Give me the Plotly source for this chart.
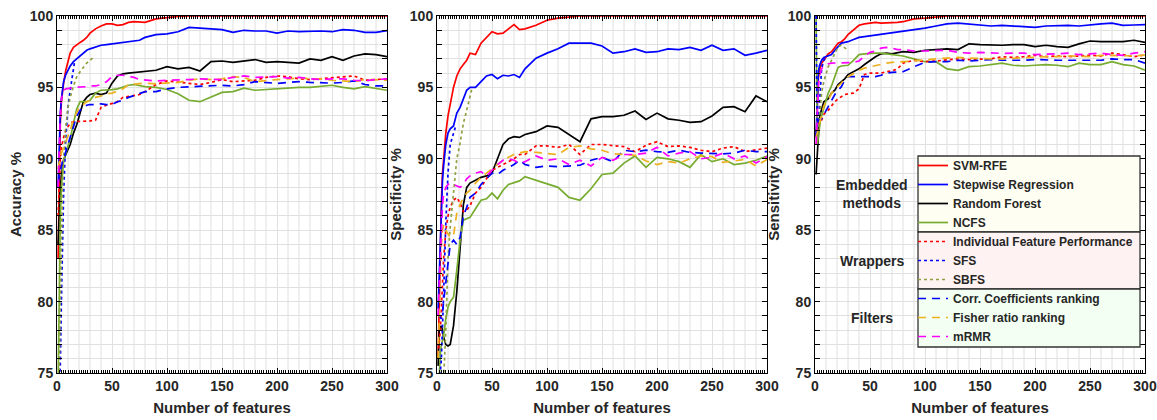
import plotly.graph_objects as go

W, H = 1157, 420

# ---------------- data ----------------
FEATURES = [1, 2, 3, 4, 5, 6, 8, 10, 12, 15, 18, 21, 24, 27, 30, 35, 40, 45, 50, 55, 60, 65, 70, 75, 80,
            90, 100, 110, 120, 130, 140, 150, 160, 170, 180, 190, 200, 210, 220, 230, 240, 250, 260, 270,
            280, 290, 300]

METHODS = ["SVM-RFE", "Stepwise Regression", "Random Forest", "NCFS",
           "Individual Feature Performance", "SFS", "SBFS",
           "Corr. Coefficients ranking", "Fisher ratio ranking", "mRMR"]

X_TICKS = [0, 50, 100, 150, 200, 250, 300]
Y_TICKS = [75, 80, 85, 90, 95, 100]
Y_TITLES = ["Accuracy %", "Specificity %", "Sensitivity %"]
GROUP_LABELS = ["Embedded<br>methods", "Wrappers", "Filters"]

# ---- Accuracy ----
ACC_SVM = [83, 89, 92.5, 94, 94.8, 95.3, 96.2, 96.9, 97.4, 97.8, 98.0, 98.15, 98.3, 98.5, 98.8,
           99.1, 99.3, 99.45, 99.45, 99.35, 99.4, 99.55, 99.6, 99.58, 99.55,
           99.8, 99.9, 99.97, 100, 100, 100, 100, 100, 100, 100, 100, 100, 100, 100, 100, 100, 100,
           100, 100, 100, 100, 100]
ACC_STEP = [88, 91.5, 93.2, 94.2, 94.9, 95.4, 95.9, 96.2, 96.5, 96.8, 97.0, 97.2, 97.4, 97.6, 97.7,
            97.85, 97.95, 98.0, 98.05, 98.1, 98.12, 98.15, 98.2, 98.3, 98.5,
            98.7, 98.75, 98.9, 99.2, 99.15, 99.1, 99.05, 98.85, 99.0, 98.95, 98.95, 98.8, 98.95,
            98.9, 98.92, 98.95, 98.9, 99.05, 99.0, 98.85, 98.85, 98.97]
ACC_RF = [84, 86.5, 88, 88.8, 89.4, 89.9, 90.3, 90.7, 91.0, 91.8, 92.4, 93.2, 94.0, 94.3, 94.5,
          94.6, 94.5, 94.6, 95.3, 95.8, 95.95, 96.0, 96.05, 96.1, 96.15,
          96.2, 96.45, 96.3, 96.4, 96.15, 96.8, 96.85, 96.75, 96.85, 96.95, 96.75, 96.8, 96.75,
          96.7, 97.0, 96.9, 97.15, 96.9, 97.2, 97.35, 97.3, 97.15]
ACC_NCFS = [74, 82, 86, 88, 89.3, 89.9, 90.4, 90.9, 91.4, 92.5, 93.5, 94.0, 94.0, 94.0, 94.1,
            94.6, 94.8, 94.8, 94.85, 94.9, 95.05, 95.15, 95.2, 95.1, 95.05,
            95.0, 94.85, 94.55, 94.1, 94.0, 94.3, 94.65, 94.7, 94.95, 94.8, 94.85, 94.95, 94.95,
            95.0, 95.0, 95.05, 95.15, 95.0, 94.9, 95.05, 94.9, 94.8]
ACC_IFP = [86, 89, 90, 90.8, 91.2, 91.5, 92.0, 92.3, 92.5, 92.6, 92.6, 92.6, 92.6, 92.6, 92.65,
           92.7, 93.6, 93.75, 93.85, 94.0, 94.3, 94.35, 94.4, 94.5, 94.7,
           95.2, 95.45, 95.35, 95.3, 95.2, 95.35, 95.55, 95.4, 95.45, 95.5, 95.7, 95.8, 95.75,
           95.6, 95.55, 95.6, 95.65, 95.75, 95.8, 95.5, 95.55, 95.6]
ACC_SFS_X = [1, 2, 3, 4, 5, 6, 8, 10, 12, 14, 16]
ACC_SFS = [73, 74, 75.5, 80, 84, 87.5, 91.5, 93.6, 94.8, 95.8, 96.8]
ACC_SBFS_X = [1, 2, 3, 4, 5, 6, 8, 10, 12, 15, 18, 21, 24, 27, 30, 33]
ACC_SBFS = [73, 75, 80, 85, 88, 90, 92.3, 93.6, 94.3, 95.1, 95.75, 96.1, 96.4, 96.7, 96.9, 97.1]
ACC_CORR = [88.3, 88.8, 89.2, 89.5, 89.8, 89.9, 90.5, 91.0, 91.5, 92.3, 93.0, 93.4, 93.65, 93.75,
            93.8, 93.8, 93.85, 93.8, 93.8, 94.0, 94.1, 94.3, 94.45, 94.55, 94.7,
            94.7, 94.9, 95.0, 95.05, 95.1, 95.15, 95.15, 95.1, 95.2, 95.4, 95.35, 95.28, 95.35,
            95.4, 95.35, 95.3, 95.3, 95.35, 95.45, 95.2, 95.1, 95.1]
ACC_FISHER = [89.3, 89.8, 90.2, 90.4, 90.6, 90.8, 91.2, 91.6, 92.0, 92.8, 93.3, 93.7, 93.8, 94.0,
              94.1, 94.3, 94.4, 94.55, 94.6, 94.75, 94.9, 95.2, 95.25, 95.3, 95.3,
              95.25, 95.3, 95.35, 95.5, 95.6, 95.55, 95.6, 95.75, 95.7, 95.4, 95.5, 95.55, 95.6,
              95.65, 95.6, 95.6, 95.5, 95.45, 95.4, 95.55, 95.5, 95.5]
ACC_MRMR = [88, 91, 93, 94.2, 94.6, 94.8, 94.9, 94.9, 94.95, 95.0, 95.0, 95.0, 95.0, 95.05, 95.1,
            95.1, 95.2, 95.4, 95.75, 95.85, 95.85, 95.8, 95.7, 95.55, 95.5,
            95.45, 95.5, 95.5, 95.55, 95.6, 95.6, 95.55, 95.7, 95.8, 95.7, 95.7, 95.75, 95.65,
            95.7, 95.6, 95.55, 95.6, 95.6, 95.5, 95.45, 95.55, 95.6]

# ---- Specificity ----
SPE_SVM = [76, 80, 84, 87, 89, 90.2, 91.8, 93.0, 93.8, 95.0, 95.8, 96.3, 96.6, 96.9, 97.4,
           97.3, 98.1, 98.5, 98.9, 98.75, 98.8, 99.1, 99.4, 99.05, 99.1,
           99.35, 99.7, 99.85, 99.95, 100, 100, 100, 100, 100, 100, 100, 100, 100, 100, 100, 100,
           100, 100, 100, 100, 100, 100]
SPE_STEP = [79.5, 82, 85, 87, 88.5, 89.5, 91.0, 91.8, 92.1, 92.3, 93.2, 93.6, 94.2, 94.8, 95.0,
            95.0, 95.4, 95.8, 95.9, 95.6, 95.85, 95.8, 95.9, 95.7, 96.3,
            97.05, 97.4, 97.7, 98.1, 98.1, 98.1, 97.9, 97.4, 97.5, 97.7, 97.45, 97.5, 97.7, 97.65,
            97.8, 97.6, 97.95, 97.6, 97.7, 97.25, 97.4, 97.6]
SPE_RF = [75.5, 78.0, 78.2, 78.3, 78.0, 77.5, 77.0, 76.9, 77.0, 78.3, 80.7, 84.0, 86.8, 88.0, 88.3,
          88.5, 88.7, 88.8, 89.0, 90.0, 91.0, 91.4, 91.55, 91.5, 91.7,
          91.9, 92.3, 92.2, 91.7, 91.2, 92.8, 92.95, 92.95, 93.05, 93.35, 92.75, 93.2, 92.8, 92.7,
          92.55, 92.6, 93.0, 93.6, 93.65, 93.3, 94.4, 94.0]
SPE_NCFS = [73, 75, 76.3, 77, 77.3, 77.6, 78.8, 79.6, 80.0, 80.3, 82.2, 84.3, 85.7, 85.8, 85.9,
            86.5, 87.1, 87.2, 87.6, 87.2, 87.8, 88.2, 88.3, 88.45, 88.75,
            88.5, 88.2, 88.0, 87.3, 87.1, 87.9, 88.9, 89.0, 89.7, 90.2, 89.4, 90.1, 90.0, 89.8,
            89.4, 90.3, 89.8, 90.0, 89.6, 89.7, 89.9, 90.2]
SPE_IFP = [76.3, 77, 78, 79.5, 81.5, 83, 85, 86, 86.6, 87.1, 87.3, 86.9, 86.3, 86.4, 86.7,
           87.6, 88.0, 88.6, 89.2, 89.4, 89.6, 89.8, 90.0, 90.3, 90.3,
           90.9, 90.9, 90.8, 91.0, 90.3, 91.0, 91.0, 90.95, 90.85, 90.5, 90.95, 91.2, 90.85, 90.9,
           90.8, 90.6, 90.5, 90.75, 90.85, 90.5, 90.6, 90.75]
SPE_SFS_X = [1, 2, 3, 4, 5, 6, 8, 10, 12, 15, 17]
SPE_SFS = [74, 74.5, 75, 76, 78, 80.5, 85.5, 89, 91, 91.8, 92.3]
SPE_SBFS_X = [1, 2, 3, 4, 5, 6, 8, 10, 12, 15, 18, 21, 24, 27, 30, 32]
SPE_SBFS = [70, 71, 72, 73, 74, 74.5, 78, 83, 85.2, 87.5, 90.0, 91.1, 92.5, 93.4, 94.4, 95.0]
SPE_CORR = [79.2, 79.0, 78.9, 78.8, 79.2, 80.0, 81.5, 83.0, 84.0, 84.3, 84.0, 84.5, 86.0, 86.6, 87.3,
            87.6, 88.2, 88.6, 89.0, 88.9, 89.2, 89.4, 89.6, 89.9, 89.6,
            89.4, 89.5, 89.45, 89.5, 89.55, 89.9, 90.1, 89.8, 90.6, 90.5, 90.6, 90.5, 90.45, 90.6,
            90.45, 90.4, 90.35, 90.35, 90.4, 90.6, 90.5, 90.5]
SPE_FISHER = [76, 79, 82, 84, 85, 85.4, 85.0, 84.7, 84.5, 84.6, 86.2, 86.8, 87.3, 87.6, 87.8,
              88.3, 88.7, 89.0, 89.3, 89.6, 89.9, 90.1, 90.3, 90.4, 90.5,
              90.45, 90.4, 90.3, 90.8, 90.9, 90.7, 90.6, 90.35, 90.3, 90.25, 89.85, 89.6, 89.8,
              89.7, 90.0, 90.2, 90.15, 89.75, 89.85, 89.95, 89.5, 89.95]
SPE_MRMR = [79, 81, 83.5, 85.5, 86.8, 87.5, 88.0, 88.2, 88.3, 88.2, 88.1, 88.0, 88.2, 88.6, 88.8,
            89.0, 89.1, 88.8, 89.2, 89.6, 89.9, 90.0, 89.9, 89.7, 89.8,
            90.2, 89.9, 90.0, 89.6, 89.9, 89.5, 90.1, 89.9, 90.3, 90.3, 90.4, 90.8, 90.2, 90.4,
            90.5, 90.0, 90.1, 90.4, 90.0, 90.2, 89.7, 90.15]

# ---- Sensitivity ----
SEN_SVM = [91.5, 94.5, 95.6, 96.2, 96.5, 96.7, 96.9, 97.1, 97.35, 97.5, 97.8, 98.1, 98.2, 98.4, 98.7,
           99.05, 99.35, 99.45, 99.5, 99.55, 99.5, 99.5, 99.5, 99.55, 99.6,
           99.8, 99.85, 99.92, 100, 100, 100, 100, 100, 100, 100, 100, 100, 100, 100, 100, 100,
           100, 100, 100, 100, 100, 100]
SEN_STEP = [91.5, 94.5, 96.0, 96.5, 96.8, 96.9, 97.1, 97.15, 97.2, 97.3, 97.6, 97.85, 98.1, 98.15,
            98.2, 98.35, 98.5, 98.55, 98.6, 98.65, 98.7, 98.75, 98.8, 98.85, 98.9,
            99.0, 99.15, 99.3, 99.45, 99.5, 99.45, 99.35, 99.3, 99.35, 99.3, 99.25, 99.2, 99.3,
            99.35, 99.35, 99.3, 99.4, 99.45, 99.5, 99.35, 99.37, 99.4]
SEN_RF = [88.9, 90.5, 92.0, 92.8, 93.2, 93.5, 94.0, 94.1, 94.2, 94.6, 94.8, 95.2, 95.4, 95.6, 95.9,
          96.1, 96.3, 96.6, 96.9, 97.15, 97.35, 97.4, 97.35, 97.45, 97.5,
          97.45, 97.6, 97.65, 97.7, 97.65, 98.05, 98.0, 97.95, 97.95, 98.0, 98.0, 97.85, 97.95,
          97.85, 97.8, 98.05, 98.25, 98.2, 98.2, 98.2, 98.3, 98.15]
SEN_NCFS = [100, 91.0, 91.5, 92.3, 92.7, 93.0, 93.6, 94.2, 94.6, 95.1, 95.8, 96.4, 96.5, 96.5, 96.55,
            96.9, 97.3, 97.35, 97.4, 97.4, 97.4, 97.35, 97.3, 97.3, 97.2,
            97.0, 96.8, 96.8, 96.3, 96.2, 96.45, 96.5, 96.6, 96.7, 96.55, 96.5, 96.55, 96.6, 96.55,
            96.45, 96.7, 96.6, 96.6, 96.8, 96.6, 96.5, 96.2]
SEN_IFP = [91.5, 92.0, 92.3, 92.5, 92.6, 92.7, 93.1, 93.3, 93.4, 93.7, 94.0, 94.2, 94.35, 94.5, 94.55,
           94.6, 94.9, 95.9, 96.0, 96.0, 96.0, 96.1, 96.15, 96.3, 96.7,
           96.9, 96.8, 96.85, 96.95, 97.0, 96.95, 96.95, 97.0, 97.15, 97.1, 97.15, 97.25, 97.15,
           97.2, 97.15, 97.2, 97.25, 97.2, 97.4, 97.3, 97.15, 97.27]
SEN_SFS_X = [1, 2, 3, 4, 5, 6, 8, 10]
SEN_SFS = [100, 91.5, 92.5, 94, 95.5, 96.3, 96.9, 97.1]
SEN_SBFS_X = [1, 2, 3, 4, 5, 6, 8, 10, 12, 15, 18, 21, 24, 27, 30]
SEN_SBFS = [91.0, 91.2, 92.0, 93.0, 93.8, 94.6, 95.4, 96.0, 96.45, 96.9, 97.4, 97.85, 97.95, 97.75, 97.6]
SEN_CORR = [91.5, 92.5, 92.7, 92.7, 92.75, 92.8, 93.1, 93.4, 93.7, 94.1, 94.5, 94.8, 95.05, 95.5, 95.75,
            95.75, 95.75, 95.75, 95.72, 95.75, 95.85, 96.0, 96.05, 96.1, 96.1,
            96.45, 96.75, 96.8, 96.8, 96.9, 96.85, 96.9, 96.95, 96.9, 96.88, 96.9, 96.95, 96.9,
            96.9, 96.9, 96.88, 96.9, 96.9, 97.0, 96.95, 96.95, 96.7]
SEN_FISHER = [91.5, 91.8, 92.2, 92.6, 92.9, 93.2, 93.7, 93.95, 94.1, 94.6, 94.8, 95.1, 95.3, 95.6,
              95.75, 95.95, 96.2, 96.35, 96.45, 96.5, 96.6, 96.7, 96.75, 96.8, 96.8,
              96.85, 96.95, 97.0, 97.05, 97.1, 97.05, 97.0, 97.0, 97.0, 97.05, 97.1, 97.15, 97.15,
              97.15, 97.2, 97.18, 97.15, 97.25, 97.25, 97.25, 97.2, 97.27]
SEN_MRMR = [91.0, 93.5, 95.0, 95.8, 96.1, 96.3, 96.5, 96.6, 96.65, 96.7, 96.7, 96.7, 96.7, 96.7, 96.7,
            96.75, 96.85, 97.2, 97.45, 97.55, 97.75, 97.8, 97.75, 97.65, 97.65,
            97.55, 97.55, 97.6, 97.6, 97.45, 97.4, 97.45, 97.4, 97.38, 97.4, 97.4, 97.3, 97.3, 97.35,
            97.4, 97.3, 97.35, 97.4, 97.3, 97.25, 97.4, 97.5]

PANELS = [
    [(FEATURES, ACC_SVM), (FEATURES, ACC_STEP), (FEATURES, ACC_RF), (FEATURES, ACC_NCFS),
     (FEATURES, ACC_IFP), (ACC_SFS_X, ACC_SFS), (ACC_SBFS_X, ACC_SBFS),
     (FEATURES, ACC_CORR), (FEATURES, ACC_FISHER), (FEATURES, ACC_MRMR)],
    [(FEATURES, SPE_SVM), (FEATURES, SPE_STEP), (FEATURES, SPE_RF), (FEATURES, SPE_NCFS),
     (FEATURES, SPE_IFP), (SPE_SFS_X, SPE_SFS), (SPE_SBFS_X, SPE_SBFS),
     (FEATURES, SPE_CORR), (FEATURES, SPE_FISHER), (FEATURES, SPE_MRMR)],
    [(FEATURES, SEN_SVM), (FEATURES, SEN_STEP), (FEATURES, SEN_RF), (FEATURES, SEN_NCFS),
     (FEATURES, SEN_IFP), (SEN_SFS_X, SEN_SFS), (SEN_SBFS_X, SEN_SBFS),
     (FEATURES, SEN_CORR), (FEATURES, SEN_FISHER), (FEATURES, SEN_MRMR)],
]

# ---------------- styles ----------------
COLORS = ["#FF0000", "#0000FF", "#000000", "#77AC30",
          "#FF0000", "#0000FF", "#8FA040",
          "#0000FF", "#EDB120", "#FF00FF"]
DASHES = ["solid", "solid", "solid", "solid",
          "dot", "dot", "dot",
          "8px,6px", "8px,6px", "8px,6px"]

FONT = "Liberation Sans, Arial, Helvetica, sans-serif"
TXT = "#262626"
GRID = "#e0e0e0"

X_DOMAINS = [(57 / W, 387 / W), (437 / W, 767 / W), (815 / W, 1145 / W)]
Y_DOMAIN = (47 / H, 404 / H)

fig = go.Figure()
for p, series in enumerate(PANELS):
    sfx = "" if p == 0 else str(p + 1)
    for k, (xs, ys) in enumerate(series):
        fig.add_trace(go.Scatter(
            x=xs, y=ys, mode="lines", name=METHODS[k],
            line=dict(color=COLORS[k], width=1.7, dash=DASHES[k]),
            xaxis="x" + sfx, yaxis="y" + sfx,
            showlegend=(p == 0), legendrank=k + 1,
        ))

layout = dict(
    width=W, height=H, template="none",
    paper_bgcolor="white", plot_bgcolor="white",
    margin=dict(l=0, r=0, t=0, b=0),
    font=dict(family=FONT, color=TXT, size=14, weight="bold"),
    showlegend=True,
)

shapes = []
for p in range(3):
    sfx = "" if p == 0 else str(p + 1)
    layout["xaxis" + sfx] = dict(
        domain=list(X_DOMAINS[p]), anchor="y" + sfx, range=[0, 300],
        tickmode="array", tickvals=X_TICKS,
        ticks="inside", ticklen=5, tickcolor="black", tickwidth=1,
        showline=True, linecolor="black", linewidth=1, mirror="ticks",
        showgrid=True, gridcolor=GRID, gridwidth=1, zeroline=False,
        minor=dict(dtick=2, tick0=0, ticks="inside", ticklen=3, tickcolor="black", showgrid=False),
        tickfont=dict(family=FONT, size=14, color=TXT, weight="bold"),
        title=dict(text="Number of features", font=dict(family=FONT, size=15, color=TXT, weight="bold"),
                   standoff=9),
        fixedrange=True,
    )
    layout["yaxis" + sfx] = dict(
        domain=list(Y_DOMAIN), anchor="x" + sfx, range=[75, 100],
        tickmode="array", tickvals=Y_TICKS,
        ticks="inside", ticklen=5, tickcolor="black", tickwidth=1,
        showline=True, linecolor="black", linewidth=1, mirror="ticks",
        showgrid=True, gridcolor=GRID, gridwidth=1, zeroline=False,
        minor=dict(dtick=1, tick0=75, ticks="inside", ticklen=5, tickcolor="black",
                   showgrid=True, gridcolor=GRID, gridwidth=1),
        tickfont=dict(family=FONT, size=14, color=TXT, weight="bold"),
        title=dict(text=Y_TITLES[p], font=dict(family=FONT, size=15, color=TXT, weight="bold"),
                   standoff=4),
        fixedrange=True,
    )
    # vertical grid lines every 10 features
    for v in range(10, 300, 10):
        if v % 50 == 0:
            continue
        shapes.append(dict(type="line", xref="x" + sfx, yref="y" + sfx + " domain",
                           x0=v, x1=v, y0=0, y1=1, layer="below",
                           line=dict(color=GRID, width=1)))

# legend box sections (paper coordinates)
LEG_X0, LEG_X1 = 918 / W, 1140 / W
ROW = 19
LEG_TOP = 156
bounds = [LEG_TOP, LEG_TOP + 4 * ROW, LEG_TOP + 7 * ROW, LEG_TOP + 10 * ROW + 1]
fills = ["#FFFEF2", "#FFF2F2", "#F2FFF2"]
annotations = []
for s in range(3):
    y0 = 1 - bounds[s + 1] / H
    y1 = 1 - bounds[s] / H
    shapes.append(dict(type="rect", xref="paper", yref="paper", x0=LEG_X0, x1=LEG_X1,
                       y0=y0, y1=y1, fillcolor=fills[s], layer="above",
                       line=dict(color="#333333", width=1.3)))
    annotations.append(dict(xref="paper", yref="paper", x=872 / W, y=(y0 + y1) / 2,
                            text=GROUP_LABELS[s], showarrow=False, xanchor="center",
                            yanchor="middle",
                            font=dict(family=FONT, size=14, color=TXT, weight="bold")))

layout["shapes"] = shapes
layout["annotations"] = annotations
layout["legend"] = dict(
    x=(LEG_X0 * W - 5) / W, xanchor="left", y=1 - (LEG_TOP - 5) / H, yanchor="top",
    bgcolor="rgba(0,0,0,0)", borderwidth=0, traceorder="normal",
    font=dict(family=FONT, size=12, color=TXT, weight="bold"),
    itemwidth=30, tracegroupgap=0,
)

fig.update_layout(**layout)
fig.write_html("out.html", config={"displayModeBar": False, "staticPlot": True},
               post_script="document.body.style.margin='0';document.body.style.overflow='hidden';")
